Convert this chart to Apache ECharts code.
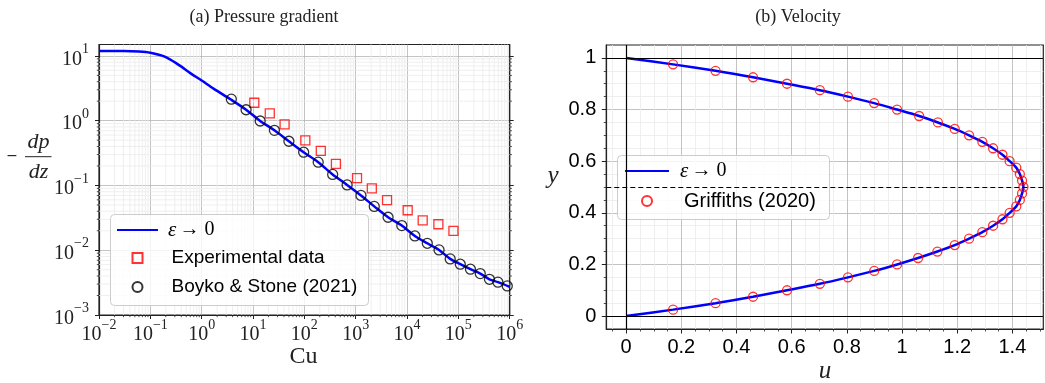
<!DOCTYPE html>
<html>
<head>
<meta charset="utf-8">
<script src="https://cdn.jsdelivr.net/npm/echarts@6/dist/echarts.min.js"></script>
<style>
html,body{margin:0;padding:0;background:#fff;}
#chart{width:1045px;height:383px;}
</style>
</head>
<body>
<div id="chart"></div>
<script>
// ---------- Panel (a): pressure gradient ----------
const cuCurve = [0.01, 0.03, 0.06, 0.1, 0.19, 0.34, 0.61, 1, 1.73, 3.64, 7.33, 13.8, 26.1, 50, 97, 186, 356, 681, 1268, 2300, 4276, 7907, 14220, 24830, 42070, 69340, 109000, 172000, 267000, 403000, 590000, 1000000];
const dpCurve = [11.9, 11.9, 11.7, 11.2, 9.77, 7.47, 5.38, 4.16, 3.1, 2.14, 1.476, 0.99, 0.71, 0.481, 0.326, 0.229, 0.148, 0.102, 0.0702, 0.0475, 0.0323, 0.024, 0.0166, 0.0128, 0.0101, 0.00735, 0.00608, 0.00509, 0.00436, 0.00356, 0.00321, 0.00272];

const cuExp = [10.6, 21.2, 41.2, 104.5, 209, 412, 1062, 2061, 4083, 10300, 20200, 40800, 80200];
const dpExp = [1.89, 1.30, 0.879, 0.498, 0.341, 0.215, 0.130, 0.090, 0.0592, 0.0414, 0.029, 0.0252, 0.0199];

const cuBoyko = [3.78, 7.33, 13.8, 26.1, 50, 97, 186, 356, 681, 1268, 2300, 4276, 7907, 14220, 24830, 42070, 69340, 109000, 172000, 267000, 403000, 590000, 897000];
const dpBoyko = [2.15, 1.476, 0.989, 0.71, 0.481, 0.326, 0.229, 0.148, 0.102, 0.0702, 0.0475, 0.0323, 0.024, 0.0166, 0.0128, 0.0101, 0.00735, 0.00608, 0.00509, 0.00436, 0.00356, 0.00321, 0.00281];

const logXTicks = [0.01, 0.1, 1, 10, 100, 1000, 10000, 100000, 1000000];
const logYTicks = [0.001, 0.01, 0.1, 1, 10];
const minorMultipliers = [2, 3, 4, 5, 6, 7, 8, 9];

// ---------- Panel (b): velocity ----------
const yCurve = [0, 0.025, 0.05, 0.075, 0.1, 0.125, 0.15, 0.175, 0.2, 0.225, 0.25, 0.275, 0.3, 0.325, 0.35, 0.375, 0.4, 0.425, 0.45, 0.475, 0.5, 0.525, 0.55, 0.575, 0.6, 0.625, 0.65, 0.675, 0.7, 0.725, 0.75, 0.775, 0.8, 0.825, 0.85, 0.875, 0.9, 0.925, 0.95, 0.975, 1];
const uCurve = [0, 0.170, 0.324, 0.460, 0.583, 0.702, 0.804, 0.899, 0.982, 1.058, 1.128, 1.191, 1.243, 1.291, 1.330, 1.364, 1.390, 1.414, 1.427, 1.435, 1.440, 1.435, 1.427, 1.414, 1.390, 1.364, 1.330, 1.291, 1.243, 1.191, 1.130, 1.062, 0.982, 0.899, 0.804, 0.702, 0.583, 0.460, 0.324, 0.170, 0];

const yGriff = [0.025, 0.05, 0.075, 0.1, 0.125, 0.15, 0.175, 0.2, 0.225, 0.25, 0.275, 0.3, 0.325, 0.35, 0.375, 0.4, 0.425, 0.45, 0.475, 0.5, 0.525, 0.55, 0.575, 0.6, 0.625, 0.65, 0.675, 0.7, 0.725, 0.75, 0.775, 0.8, 0.825, 0.85, 0.875, 0.9, 0.925, 0.95, 0.975];
const uGriff = [0.170, 0.324, 0.460, 0.583, 0.702, 0.804, 0.899, 0.982, 1.058, 1.128, 1.191, 1.243, 1.291, 1.330, 1.364, 1.390, 1.414, 1.427, 1.435, 1.440, 1.435, 1.427, 1.414, 1.390, 1.364, 1.330, 1.291, 1.243, 1.191, 1.130, 1.062, 0.982, 0.899, 0.804, 0.702, 0.583, 0.460, 0.324, 0.170];

const uTicks = [0, 0.2, 0.4, 0.6, 0.8, 1, 1.2, 1.4];
const yTicks = [0, 0.2, 0.4, 0.6, 0.8, 1];

// ---------- helpers ----------
const AX = '#222';
const SERIF = 'Liberation Serif';
const SANS = 'Liberation Sans';
const xMinor = [], yMinor = [];
logXTicks.slice(0, -1).forEach(d => minorMultipliers.forEach(m => xMinor.push(d * m)));
logYTicks.slice(0, -1).forEach(d => minorMultipliers.forEach(m => yMinor.push(d * m)));

function supFmt(v) {
  const e = Math.round(Math.log10(v));
  if (Math.abs(Math.log10(v) - e) > 1e-6) return '';
  return '{b|10}{s|' + (e < 0 ? '\u2212' + (-e) : String(e)) + '}';
}
const supRich = {
  b: {fontFamily: SERIF, fontSize: 20, lineHeight: 27, verticalAlign: 'bottom', color: AX},
  s: {fontFamily: SERIF, fontSize: 14, lineHeight: 14, verticalAlign: 'top', color: AX}
};
const epsFmt = () => '{e|\u03b5} {m|\u2192 0}';
const epsRich = {
  e: {fontFamily: SERIF, fontStyle: 'italic', fontSize: 21, color: '#000'},
  m: {fontFamily: SERIF, fontSize: 20, color: '#000'}
};
const hiddenIcon = {color: 'rgba(0,0,0,0)', borderColor: 'rgba(0,0,0,0)', borderWidth: 0, opacity: 0};

const chart = echarts.init(document.getElementById('chart'), null, {renderer: 'canvas'});

const gridA = {left: 99, top: 44.5, width: 410.7, height: 270.5};
const gridB = {left: 606.3, top: 45, width: 437, height: 284};

const option = {
  animation: false,
  backgroundColor: '#fff',
  grid: [
    Object.assign({show: true, borderColor: AX, borderWidth: 1.2, backgroundColor: 'transparent', outerBoundsMode: 'none', containLabel: false}, gridA),
    Object.assign({show: true, borderColor: AX, borderWidth: 1.2, backgroundColor: 'transparent', outerBoundsMode: 'none', containLabel: false}, gridB)
  ],
  xAxis: [
    {
      gridIndex: 0, type: 'log', logBase: 10, min: 0.01, max: 1000000,
      axisLine: {show: true, onZero: false, lineStyle: {color: AX, width: 1.2}},
      axisTick: {show: true, inside: false, length: 4, lineStyle: {color: AX, width: 1}, customValues: logXTicks},
      axisLabel: {show: true, customValues: logXTicks, formatter: supFmt, rich: supRich, margin: 3},
      splitLine: {show: true, lineStyle: {color: '#b4b4b4', width: 0.8}},
      minorTick: {show: false}, minorSplitLine: {show: false}
    },
    {
      gridIndex: 1, type: 'value', min: -0.072, max: 1.512, minInterval: 0.2, maxInterval: 0.2,
      axisLine: {show: true, onZero: false, lineStyle: {color: AX, width: 1.2}},
      axisTick: {show: true, inside: false, length: 4.5, lineStyle: {color: AX, width: 1}, customValues: uTicks},
      minorTick: {show: true, splitNumber: 4, length: 2.5, lineStyle: {color: AX, width: 0.8}},
      axisLabel: {show: true, customValues: uTicks, margin: 8, fontFamily: SANS, fontSize: 20, color: '#000',
        formatter: v => String(Math.round(v * 10) / 10)},
      splitLine: {show: true, lineStyle: {color: '#b4b4b4', width: 0.8}},
      minorSplitLine: {show: true, lineStyle: {color: '#ebebeb', width: 0.8}}
    }
  ],
  yAxis: [
    {
      gridIndex: 0, type: 'log', logBase: 10, min: 0.001, max: 15, position: 'left',
      axisLine: {show: true, onZero: false, lineStyle: {color: AX, width: 1.2}},
      axisTick: {show: true, inside: false, length: 4, lineStyle: {color: AX, width: 1}, customValues: logYTicks},
      axisLabel: {show: true, customValues: logYTicks, formatter: supFmt, rich: supRich, margin: 10},
      splitLine: {show: true, lineStyle: {color: '#b4b4b4', width: 0.8}},
      minorTick: {show: false}, minorSplitLine: {show: false}
    },
    {
      gridIndex: 0, type: 'log', logBase: 10, min: 0.001, max: 15, position: 'right',
      axisLine: {show: true, onZero: false, lineStyle: {color: AX, width: 1.2}},
      axisTick: {show: true, inside: false, length: 4, lineStyle: {color: AX, width: 1}, customValues: logYTicks},
      axisLabel: {show: false},
      splitLine: {show: false}
    },
    {
      gridIndex: 1, type: 'value', min: -0.05, max: 1.05, minInterval: 0.2, maxInterval: 0.2,
      axisLine: {show: true, onZero: false, lineStyle: {color: AX, width: 1.2}},
      axisTick: {show: true, inside: false, length: 4.5, lineStyle: {color: AX, width: 1}, customValues: yTicks},
      minorTick: {show: true, splitNumber: 4, length: 2.5, lineStyle: {color: AX, width: 0.8}},
      axisLabel: {show: true, customValues: yTicks, margin: 10, fontFamily: SANS, fontSize: 20, color: '#000',
        formatter: v => String(Math.round(v * 10) / 10)},
      splitLine: {show: true, lineStyle: {color: '#b4b4b4', width: 0.8}},
      minorSplitLine: {show: true, lineStyle: {color: '#ebebeb', width: 0.8}}
    }
  ],
  legend: [
    {data: ['ε → 0'], left: 116, top: 219, orient: 'vertical', itemWidth: 41, itemHeight: 12, padding: 0,
      selectedMode: false, formatter: epsFmt, itemStyle: hiddenIcon,
      textStyle: {padding: [0, 0, 0, 5], lineHeight: 22, rich: epsRich}},
    {data: ['Experimental data', 'Boyko & Stone (2021)'], left: 131.5, top: 247, orient: 'vertical', itemWidth: 10, itemHeight: 10,
      itemGap: 7, padding: 0, selectedMode: false,
      textStyle: {padding: [0, 0, 0, 24], lineHeight: 22, fontFamily: SANS, fontSize: 19, color: '#000'}},
    {data: ['ε → 0'], left: 624, top: 160, orient: 'vertical', itemWidth: 44, itemHeight: 12, padding: 0,
      selectedMode: false, formatter: epsFmt, itemStyle: hiddenIcon,
      textStyle: {padding: [0, 0, 0, 6], lineHeight: 22, rich: epsRich}},
    {data: ['Griffiths (2020)'], left: 641, top: 190, orient: 'vertical', itemWidth: 10, itemHeight: 10, padding: 0,
      selectedMode: false, textStyle: {padding: [0, 0, 0, 27], lineHeight: 22, fontFamily: SANS, fontSize: 20, color: '#000'}}
  ],
  graphic: [
    {type: 'text', z: 100, style: {text: '(a) Pressure gradient', x: 264, y: 17, align: 'center', verticalAlign: 'middle', fontFamily: SERIF, fontSize: 18, fill: '#222'}},
    {type: 'text', z: 100, style: {text: '(b) Velocity', x: 798, y: 17, align: 'center', verticalAlign: 'middle', fontFamily: SERIF, fontSize: 18, fill: '#222'}},
    {type: 'text', z: 100, style: {text: 'Cu', x: 303.5, y: 356.5, align: 'center', verticalAlign: 'middle', fontFamily: SERIF, fontSize: 24, fill: '#222'}},
    {type: 'text', z: 100, style: {text: 'u', x: 825, y: 371, align: 'center', verticalAlign: 'middle', fontFamily: SERIF, fontStyle: 'italic', fontSize: 25, fill: '#222'}},
    {type: 'text', z: 100, style: {text: 'y', x: 553, y: 176, align: 'center', verticalAlign: 'middle', fontFamily: SERIF, fontStyle: 'italic', fontSize: 25, fill: '#222'}},
    {type: 'text', z: 100, style: {text: '\u2212', x: 12, y: 156.5, align: 'center', verticalAlign: 'middle', fontFamily: 'DejaVu Sans', fontSize: 14, fill: '#222'}},
    {type: 'text', z: 100, style: {text: 'dp', x: 38.5, y: 142, align: 'center', verticalAlign: 'middle', fontFamily: SERIF, fontStyle: 'italic', fontSize: 22, fill: '#222'}},
    {type: 'line', z: 100, shape: {x1: 25, y1: 156.7, x2: 51.5, y2: 156.7}, style: {stroke: '#222', lineWidth: 1}},
    {type: 'text', z: 100, style: {text: 'dz', x: 38.5, y: 172, align: 'center', verticalAlign: 'middle', fontFamily: SERIF, fontStyle: 'italic', fontSize: 22, fill: '#222'}},
    {type: 'rect', z: 3, shape: {x: 110.5, y: 214.5, width: 258, height: 91, r: 4}, style: {fill: 'rgba(255,255,255,0.8)', stroke: '#cccccc', lineWidth: 1}},
    {type: 'rect', z: 3, shape: {x: 617.5, y: 155.5, width: 212, height: 64, r: 4}, style: {fill: 'rgba(255,255,255,0.8)', stroke: '#cccccc', lineWidth: 1}}
  ],
  series: [
    {
      type: 'custom', name: 'xminor', xAxisIndex: 0, yAxisIndex: 0, silent: true, z: 1, clip: false,
      data: xMinor.map(v => [v, 1]),
      renderItem: (params, api) => {
        const cs = params.coordSys;
        const px = api.coord([api.value(0), 1])[0];
        const yb = cs.y + cs.height;
        return {type: 'group', children: [
          {type: 'line', shape: {x1: px, y1: cs.y, x2: px, y2: yb}, style: {stroke: '#ebebeb', lineWidth: 0.8}},
          {type: 'line', shape: {x1: px, y1: yb, x2: px, y2: yb + 2.2}, style: {stroke: AX, lineWidth: 0.8}}
        ]};
      }
    },
    {
      type: 'custom', name: 'yminor', xAxisIndex: 0, yAxisIndex: 0, silent: true, z: 1, clip: false,
      data: yMinor.map(v => [1, v]),
      renderItem: (params, api) => {
        const cs = params.coordSys;
        const py = api.coord([1, api.value(1)])[1];
        const xr = cs.x + cs.width;
        return {type: 'group', children: [
          {type: 'line', shape: {x1: cs.x, y1: py, x2: xr, y2: py}, style: {stroke: '#ebebeb', lineWidth: 0.8}},
          {type: 'line', shape: {x1: cs.x - 2.2, y1: py, x2: cs.x, y2: py}, style: {stroke: AX, lineWidth: 0.8}},
          {type: 'line', shape: {x1: xr, y1: py, x2: xr + 2.2, y2: py}, style: {stroke: AX, lineWidth: 0.8}}
        ]};
      }
    },
    {
      type: 'line', name: 'ε → 0', xAxisIndex: 0, yAxisIndex: 0, z: 3,
      data: cuCurve.map((c, i) => [c, dpCurve[i]]),
      smooth: 0.3, showSymbol: false, symbol: 'none',
      lineStyle: {color: '#0000ff', width: 2.5}, itemStyle: {color: '#0000ff'}
    },
    {
      type: 'scatter', name: 'Experimental data', xAxisIndex: 0, yAxisIndex: 0, z: 4,
      data: cuExp.map((c, i) => [c, dpExp[i]]),
      symbol: 'rect', symbolSize: 9,
      itemStyle: {color: 'rgba(255,255,255,0)', borderColor: '#ff0000', borderWidth: 1.3}
    },
    {
      type: 'scatter', name: 'Boyko & Stone (2021)', xAxisIndex: 0, yAxisIndex: 0, z: 4,
      data: cuBoyko.map((c, i) => [c, dpBoyko[i]]),
      symbol: 'circle', symbolSize: 10,
      itemStyle: {color: 'rgba(255,255,255,0)', borderColor: '#000000', borderWidth: 1.3}
    },
    {
      type: 'line', name: 'ε → 0', xAxisIndex: 1, yAxisIndex: 2, z: 3,
      data: uCurve.map((u, i) => [u, yCurve[i]]),
      smooth: 0.3, showSymbol: false, symbol: 'none',
      lineStyle: {color: '#0000ff', width: 2.5}, itemStyle: {color: '#0000ff'},
      markLine: {
        silent: true, symbol: ['none', 'none'], label: {show: false},
        lineStyle: {color: '#000', width: 1.2, type: 'solid'},
        emphasis: {disabled: true},
        data: [
          {yAxis: 0}, {yAxis: 1}, {xAxis: 0},
          {yAxis: 0.5, lineStyle: {color: '#000', width: 1, type: [5, 3]}}
        ]
      }
    },
    {
      type: 'scatter', name: 'Griffiths (2020)', xAxisIndex: 1, yAxisIndex: 2, z: 4,
      data: uGriff.map((u, i) => [u, yGriff[i]]),
      symbol: 'circle', symbolSize: 9,
      itemStyle: {color: 'rgba(255,255,255,0)', borderColor: '#ff0000', borderWidth: 1.3}
    }
  ]
};
chart.setOption(option);
</script>
</body>
</html>
